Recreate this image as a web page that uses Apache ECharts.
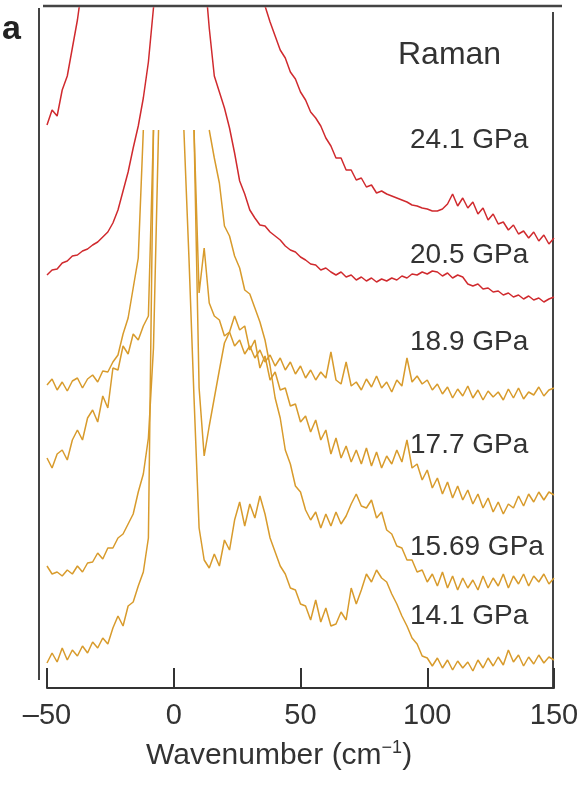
<!DOCTYPE html>
<html><head><meta charset="utf-8">
<script src="https://cdn.jsdelivr.net/npm/echarts@6/dist/echarts.min.js"></script>
<style>html,body{margin:0;padding:0;background:#fff}#c{width:587px;height:785px}</style>
</head><body><div id="c"></div>
<script>
// shared wavenumber grid (cm^-1)
const wavenumber = [-50,-48,-46,-44,-42,-40,-38,-36,-34,-32,-30,-28,-26,-24,-22,-20,-18,-16,-14,-12,
 -10,-8,-6,-4,-2,0,2,4,6,8,10,12,14,16,18,20,22,24,26,28,
 30,32,34,36,38,40,42,44,46,48,50,52,54,56,58,60,62,64,66,68,
 70,72,74,76,78,80,82,84,86,88,90,92,94,96,98,100,102,104,106,108,
 110,112,114,116,118,120,122,124,126,128,130,132,134,136,138,140,142,144,146,148,150];
const xTicks = [-50, 0, 50, 100, 150];
const pressures = ['24.1 GPa','20.5 GPa','18.9 GPa','17.7 GPa','15.69 GPa','14.1 GPa'];

// Intensities (offset, arbitrary units). "Left" branches start at -50 cm-1,
// "Right" branches end at 150 cm-1; the Rayleigh region between them is not shown.
const p241Left = [563,578,572,598,612,640,668,705];
const p241Right = [705,682,666,652,638,630,616,609,596,588,576,570,562,550,542,530,530,518,518,508,
 510,501,503,495,497,494,492,490,488,486,483,482,480,479,477,477,479,484,494,482,
 490,480,486,474,480,468,474,464,466,458,463,454,457,450,456,447,453,444,450];
const p205Left = [413,418,419,425,427,432,433,437,439,443,446,451,456,465,478,497,516,540,562,590,626,680,720];
const p205Right = [720,660,612,596,580,560,535,507,494,478,470,463,462,456,452,448,442,438,436,431,
 428,424,423,418,420,416,413,416,411,413,408,411,407,410,406,409,407,410,408,412,
 410,414,413,416,414,417,416,412,415,410,413,411,404,402,404,399,400,396,397,393,
 395,391,393,389,392,388,390,386,389,391];
const p189Left = [303,309,298,306,297,307,310,300,309,313,306,317,316,326,333,354,370,400,430,558];
const p189Right = [558,395,440,385,372,368,352,356,342,348,
 334,342,330,338,326,333,322,330,318,326,
 314,322,310,318,308,316,310,336,308,304,
 326,302,306,298,309,301,312,300,306,296,
 308,302,330,306,312,304,308,298,304,294,
 301,290,299,292,302,290,298,288,297,291,
 296,288,299,290,300,289,296,293,301,292,
 298,300];
const p177Left = [230,220,234,238,228,248,258,248,270,278,266,292,280,320,318,342,334,354,348,362,372,558];
const p177Right = [558,300,232,262,290,318,345,356,372,358,
 362,338,348,320,332,308,316,298,300,282,
 284,266,272,256,268,248,258,234,250,230,
 242,226,238,224,240,222,236,220,232,224,
 238,226,248,220,224,208,218,200,210,194,
 206,190,202,188,198,184,194,180,190,176,
 186,174,184,180,192,182,194,186,196,188,
 196,193];
const p1569Left = [122,114,116,112,118,114,122,116,125,126,135,129,140,140,150,154,164,174,196,214,250,340,558];
const p1569Right = [558,530,505,462,452,432,420,398,394,380,
 366,348,322,290,270,238,224,202,196,178,
 168,176,160,174,162,176,164,172,184,194,
 182,180,188,170,176,158,154,142,140,128,
 128,116,118,106,114,102,116,100,112,98,
 110,100,108,98,112,100,110,102,114,100,
 112,104,114,102,112,106,114,104,110];
const p141Left = [25,35,26,40,28,38,32,42,35,46,40,50,44,60,72,62,82,86,102,116,150,558];
const p141Right = [558,430,290,160,128,120,134,122,148,138,
 168,186,162,184,170,192,174,150,136,122,
 114,100,98,84,82,68,88,66,80,62,
 64,76,68,100,84,98,114,106,118,110,
 106,94,84,72,62,50,44,32,30,22,
 30,20,28,18,27,20,26,17,28,20,
 30,22,31,23,38,26,33,22,31,24,
 33,25,31,28];

const RED = '#d02a2e', GOLD = '#d89b2c';
const FONT = "'Liberation Sans', Arial, Helvetica, sans-serif";

function build(left, right) {
  const n = wavenumber.length, rs = n - right.length, out = [];
  for (let i = 0; i < n; i++) {
    let v = null;
    if (i < left.length) v = left[i];
    else if (i >= rs) v = right[i - rs];
    out.push([wavenumber[i], v]);
  }
  return out;
}
const seriesDefs = [
  [pressures[0], p241Left, p241Right, RED],
  [pressures[1], p205Left, p205Right, RED],
  [pressures[2], p189Left, p189Right, GOLD],
  [pressures[3], p177Left, p177Right, GOLD],
  [pressures[4], p1569Left, p1569Right, GOLD],
  [pressures[5], p141Left, p141Right, GOLD]
];

const chart = echarts.init(document.getElementById('c'), null, {renderer: 'canvas'});
const labelY = [141, 256, 343, 446, 548, 617];

chart.setOption({
  animation: false,
  backgroundColor: '#fff',
  grid: {left: 47, right: 33, top: 8, bottom: 97, containLabel: false},
  xAxis: {
    type: 'value', min: -50, max: 150, interval: 50,
    axisLine: {show: true, lineStyle: {color: '#333', width: 2}},
    axisTick: {show: true, inside: true, length: 20, lineStyle: {color: '#333', width: 2}},
    splitLine: {show: false},
    axisLabel: {
      fontSize: 29, fontFamily: FONT, color: '#333', margin: 13,
      formatter: v => xTicks.includes(v) ? (v < 0 ? '\u2013' + Math.abs(v) : String(v)) : ''
    }
  },
  yAxis: {type: 'value', min: 0, max: 680, show: false},
  series: seriesDefs.map(([name, l, r, c]) => ({
    name, type: 'line', data: build(l, r), showSymbol: false, symbol: 'none',
    connectNulls: false, clip: true,
    lineStyle: {color: c, width: 1.5}
  })),
  graphic: [
    {type: 'line', shape: {x1: 43, y1: 6, x2: 562, y2: 6}, style: {stroke: '#444', lineWidth: 2.5}},
    {type: 'line', shape: {x1: 39, y1: 8, x2: 39, y2: 680}, style: {stroke: '#444', lineWidth: 2}},
    {type: 'line', shape: {x1: 553, y1: 12, x2: 553, y2: 688}, style: {stroke: '#444', lineWidth: 2}},
    {type: 'text', left: 2, top: 13, style: {text: 'a', font: 'bold 34px ' + FONT, fill: '#222'}},
    {type: 'text', left: 398, top: 39, style: {text: 'Raman', font: '32px ' + FONT, fill: '#333'}},
    ...pressures.map((p, i) => ({type: 'text', left: 410, top: labelY[i] - 15,
      style: {text: p, font: '28px ' + FONT, fill: '#333'}})),
    {type: 'text', left: 146, top: 739, style: {
      text: 'Wavenumber (cm{sup|\u22121})', font: '30px ' + FONT, fill: '#333',
      rich: {sup: {fontSize: 18, fontFamily: FONT, fill: '#333', verticalAlign: 'top', padding: [0, 0, 15, 0]}}
    }}
  ]
});
</script>
</body></html>
